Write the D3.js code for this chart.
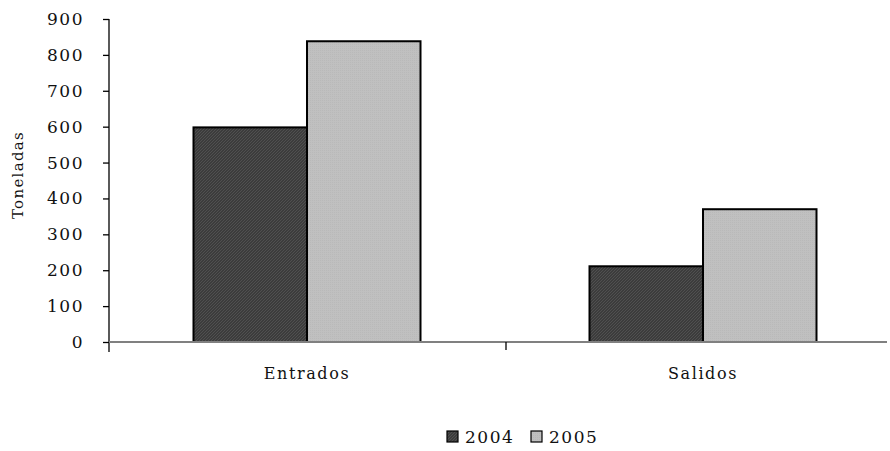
<!DOCTYPE html>
<html><head><meta charset="utf-8">
<script src="https://cdn.jsdelivr.net/npm/d3@7"></script>
<style>body{margin:0;background:#fff}text{font-family:"DejaVu Serif",serif;fill:#111}</style>
</head><body><svg id="c" width="890" height="451"></svg>
<script>
const categories = ["Entrados", "Salidos"];
const seriesNames = ["2004", "2005"];
const values2004 = [598, 211];
const values2005 = [838, 370];
const yTicks = [0,100,200,300,400,500,600,700,800,900];

const svg = d3.select("#c");
const defs = svg.append("defs");
const p1 = defs.append("pattern").attr("id","p2004").attr("patternUnits","userSpaceOnUse").attr("width",3).attr("height",3);
p1.append("rect").attr("width",3).attr("height",3).attr("fill","#3c3c3c");
p1.append("path").attr("d","M0,3 L3,0 M-1,1 L1,-1 M2,4 L4,2").attr("stroke","#555").attr("stroke-width",0.8);
const p2 = defs.append("pattern").attr("id","p2005").attr("patternUnits","userSpaceOnUse").attr("width",2).attr("height",2);
p2.append("rect").attr("width",2).attr("height",2).attr("fill","#c0c0c0");
p2.append("rect").attr("width",1).attr("height",1).attr("fill","#b9b9b9");

const m = {l:109, r:887, t:19, b:342, bandEnd:901};
const x = d3.scaleBand().domain(categories).range([m.l, m.bandEnd]);
const y = d3.scaleLinear().domain([0,900]).range([m.b, m.t]);
const groupW = 227;
const groupPad = (x.bandwidth()-groupW)/2;
const xs = d3.scaleBand().domain(seriesNames).range([0, groupW]);
const data = categories.map((c,i)=>({cat:c, vals:[values2004[i], values2005[i]]}));
const fills = ["url(#p2004)", "url(#p2005)"];

// y axis
const ya = svg.append("g").attr("transform",`translate(${m.l},0)`)
  .call(d3.axisLeft(y).tickValues(yTicks).tickSize(6).tickPadding(19).tickFormat(d3.format("d")));
ya.select(".domain").attr("stroke","#000").attr("stroke-width",1.3).attr("d",`M0,${m.t}V${m.b+10}`);
ya.selectAll(".tick line").attr("stroke","#000").attr("stroke-width",1.3);
ya.selectAll(".tick text").attr("font-size",17).attr("letter-spacing",1.5).attr("font-family","DejaVu Serif").attr("fill","#111");

// bars
const g = svg.append("g");
data.forEach(d=>{
  d.vals.forEach((v,j)=>{
    g.append("rect")
      .attr("x", x(d.cat)+groupPad+xs(seriesNames[j]))
      .attr("y", y(v))
      .attr("width", xs.bandwidth())
      .attr("height", y(0)-y(v))
      .attr("fill", fills[j]).attr("stroke","#000").attr("stroke-width",2);
  });
});

// x axis
const xa = svg.append("g").attr("transform",`translate(0,${m.b})`)
  .call(d3.axisBottom(x).tickSize(0).tickPadding(26));
xa.select(".domain").attr("stroke","#808080").attr("stroke-width",2).attr("d",`M${m.l},0H${m.r}`);
xa.selectAll(".tick text").attr("font-size",16).attr("letter-spacing",1.6).attr("font-family","DejaVu Serif").attr("fill","#111");
// category separators
svg.append("g").selectAll("line").data(categories.slice(1)).join("line")
  .attr("x1",d=>x(d)+1).attr("x2",d=>x(d)+1).attr("y1",m.b).attr("y2",m.b+8)
  .attr("stroke","#000").attr("stroke-width",1.3);

// y title
svg.append("text").attr("transform","translate(23,175) rotate(-90)")
  .attr("text-anchor","middle").attr("font-size",15).attr("letter-spacing",1.3).text("Toneladas");

// legend
const lg = svg.append("g").attr("transform","translate(447,431)");
seriesNames.forEach((s,i)=>{
  const gx = i*84;
  lg.append("rect").attr("x",gx).attr("y",0).attr("width",11).attr("height",11)
    .attr("fill",fills[i]).attr("stroke","#000").attr("stroke-width",1.2);
  lg.append("text").attr("x",gx+18).attr("y",12).attr("font-size",17).attr("letter-spacing",1.5).text(s);
});
</script></body></html>
